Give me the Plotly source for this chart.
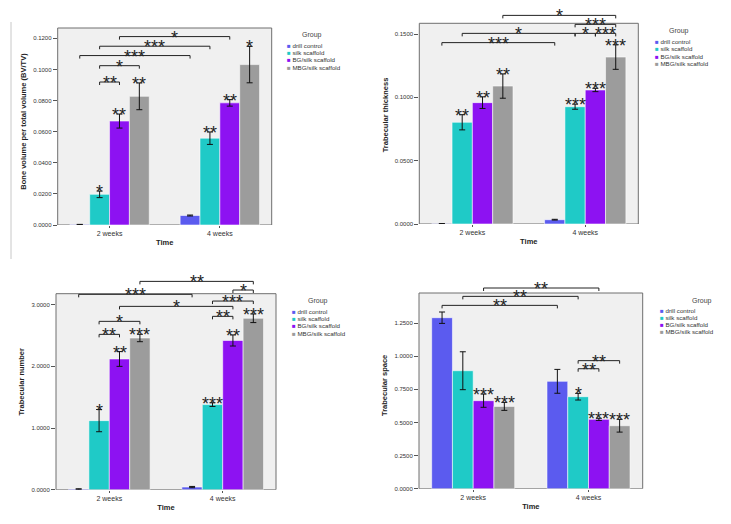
import plotly.graph_objects as go

W, H = 731, 524

categories = ["2 weeks", "4 weeks"]
groups = ["drill control", "silk scaffold", "BG/silk scaffold", "MBG/silk scaffold"]
colors = ["#5b5bef", "#1fcac7", "#8d12f2", "#9c9c9c"]

# ---- Panel 1: Bone volume per total volume ----
bvtv_mean = [[0.0003, 0.0061], [0.0197, 0.0558], [0.0668, 0.0785], [0.0827, 0.1031]]
bvtv_err = [[0.0001, 0.0003], [0.0021, 0.0040], [0.0045, 0.0021], [0.0086, 0.0117]]
bvtv_stars = [["", ""], ["*", "**"], ["**", "**"], ["**", "*"]]
bvtv_brackets = [((1, 0), (2, 0), 0.0919, "**"), ((1, 0), (3, 0), 0.1024, "*"),
                 ((0, 0), (0, 1), 0.1089, "***"), ((1, 0), (1, 1), 0.1149, "***"),
                 ((2, 0), (2, 1), 0.1211, "*")]
bvtv_ticks = [0, 0.02, 0.04, 0.06, 0.08, 0.10, 0.12]

# ---- Panel 2: Trabecular thickness ----
tbth_mean = [[0.0002, 0.0034], [0.0803, 0.0926], [0.0958, 0.1058], [0.1089, 0.1318]]
tbth_err = [[0.0001, 0.0003], [0.0060, 0.0020], [0.0046, 0.0013], [0.0096, 0.0097]]
tbth_stars = [["", ""], ["**", "***"], ["**", "***"], ["**", "***"]]
tbth_brackets = [((0, 0), (0, 1), 0.1432, "***"), ((1, 0), (1, 1), 0.1505, "*"),
                 ((1, 1), (2, 1), 0.1505, "*"), ((2, 1), (3, 1), 0.1505, "***"),
                 ((1, 1), (3, 1), 0.1576, "***"), ((3, 0), (3, 1), 0.1647, "*")]
tbth_ticks = [0, 0.05, 0.10, 0.15]

# ---- Panel 3: Trabecular number ----
tbn_mean = [[0.010, 0.043], [1.12, 1.38], [2.12, 2.42], [2.46, 2.78]]
tbn_err = [[0.005, 0.010], [0.18, 0.03], [0.12, 0.09], [0.06, 0.07]]
tbn_stars = [["", ""], ["*", "***"], ["**", "**"], ["***", "***"]]
tbn_brackets = [((1, 0), (2, 0), 2.519, "**"), ((1, 0), (3, 0), 2.730, "*"),
                ((1, 1), (2, 1), 2.811, "**"), ((2, 0), (2, 1), 2.973, "*"),
                ((1, 1), (3, 1), 3.059, "***"), ((0, 0), (0, 1), 3.168, "***"),
                ((2, 1), (3, 1), 3.238, "*"), ((3, 0), (3, 1), 3.378, "**")]
tbn_ticks = [0, 1, 2, 3]

# ---- Panel 4: Trabecular space ----
tbsp_mean = [[1.290, 0.810], [0.890, 0.694], [0.664, 0.523], [0.621, 0.475]]
tbsp_err = [[0.043, 0.090], [0.143, 0.025], [0.050, 0.008], [0.030, 0.048]]
tbsp_stars = [["", ""], ["", "*"], ["***", "***"], ["***", "***"]]
tbsp_brackets = [((1, 1), (2, 1), 0.905, "**"), ((1, 1), (3, 1), 0.966, "**"),
                 ((0, 0), (0, 1), 1.383, "**"), ((1, 0), (1, 1), 1.451, "**"),
                 ((2, 0), (2, 1), 1.514, "**")]
tbsp_ticks = [0, 0.25, 0.5, 0.75, 1.0, 1.25]

panels = [
    dict(mean=bvtv_mean, err=bvtv_err, stars=bvtv_stars, brackets=bvtv_brackets, ticks=bvtv_ticks,
         ytitle="Bone volume per total volume (BV/TV)",
         geo=dict(left=57.7, right=271.7, zero=225, ref=0.12, refpx=38.3, boxtop=28, ext=18),
         leg=dict(gx=311.7, gy=35, sx=285, rows=[45.7, 52.8, 59.9, 67.0])),
    dict(mean=tbth_mean, err=tbth_err, stars=tbth_stars, brackets=tbth_brackets, ticks=tbth_ticks,
         ytitle="Trabecular thickness",
         geo=dict(left=419.3, right=638.3, zero=224, ref=0.15, refpx=34, boxtop=23.3, ext=6),
         leg=dict(gx=679.3, gy=30.7, sx=652.5, rows=[41.7, 48.9, 56.1, 63.3])),
    dict(mean=tbn_mean, err=tbn_err, stars=tbn_stars, brackets=tbn_brackets, ticks=tbn_ticks,
         ytitle="Trabecular number",
         geo=dict(left=56, right=276, zero=489.7, ref=3.0, refpx=304.7, boxtop=293.7, ext=274),
         leg=dict(gx=318.3, gy=301, sx=290, rows=[311.3, 318.5, 325.7, 333.0])),
    dict(mean=tbsp_mean, err=tbsp_err, stars=tbsp_stars, brackets=tbsp_brackets, ticks=tbsp_ticks,
         ytitle="Trabecular space",
         geo=dict(left=419, right=642.7, zero=488.7, ref=1.25, refpx=323, boxtop=293, ext=282),
         leg=dict(gx=701.7, gy=301, sx=658.3, rows=[310.3, 317.5, 324.7, 332.0])),
]

BARGAP = 0.28
XRANGE = [-0.47, 1.47]
xpos = list(range(len(categories)))
bw = (1 - BARGAP) / len(groups)


def bar_x(series, cat):
    return cat + (series - (len(groups) - 1) / 2) * bw


fig = go.Figure()
shapes = []
annotations = []
FONT = "Liberation Sans, Arial, sans-serif"
STARFONT = dict(family="Liberation Sans", size=18, color="#222")

for n, p in enumerate(panels, start=1):
    xa = "x" if n == 1 else f"x{n}"
    ya = "y" if n == 1 else f"y{n}"
    g = p["geo"]
    k = (g["zero"] - g["refpx"]) / g["ref"]
    boxtop_val = (g["zero"] - g["boxtop"]) / k
    ext_val = (g["zero"] - g["ext"]) / k

    for s, name in enumerate(groups):
        fig.add_trace(go.Bar(
            x=xpos, y=p["mean"][s], name=name, showlegend=False,
            marker=dict(color=colors[s], line=dict(color="rgba(255,255,255,0.7)", width=0.8)),
            error_y=dict(type="data", array=p["err"][s], color="#111", thickness=1, width=3),
            xaxis=xa, yaxis=ya,
        ))

    # panel frame / background
    shapes.append(dict(type="rect", xref=f"{xa} domain", yref=ya, x0=0, x1=1, y0=0, y1=boxtop_val,
                       fillcolor="#f0f0f0", line=dict(color="#6e6e6e", width=1), layer="below"))

    # stars above bars
    for s in range(len(groups)):
        for c in xpos:
            t = p["stars"][s][c]
            if t:
                annotations.append(dict(x=bar_x(s, c), y=p["mean"][s][c] + p["err"][s][c],
                                         xref=xa, yref=ya, text=t, showarrow=False,
                                         yanchor="middle", yshift=-1, font=STARFONT))

    # significance brackets
    drop = 3.0 / k
    for (sa, ca), (sb, cb), yv, lab in p["brackets"]:
        x0, x1 = bar_x(sa, ca), bar_x(sb, cb)
        shapes.append(dict(type="path", xref=xa, yref=ya,
                           path=f"M {x0},{yv - drop} L {x0},{yv} L {x1},{yv} L {x1},{yv - drop}",
                           line=dict(color="#222", width=1)))
        annotations.append(dict(x=(x0 + x1) / 2, y=yv, xref=xa, yref=ya, text=lab, showarrow=False,
                                yanchor="middle", yshift=-1, font=STARFONT))

    # legend (manual)
    L = p["leg"]
    annotations.append(dict(x=L["gx"] / W, y=1 - L["gy"] / H, xref="paper", yref="paper", text="Group",
                            showarrow=False, xanchor="center", yanchor="middle",
                            font=dict(family=FONT, size=7, color="#444")))
    for s, name in enumerate(groups):
        annotations.append(dict(x=L["sx"] / W, y=1 - L["rows"][s] / H, xref="paper", yref="paper",
                                text=f'<span style="color:{colors[s]}">■</span> {name}',
                                showarrow=False, xanchor="left", yanchor="middle",
                                font=dict(family=FONT, size=6.2, color="#333")))

    xkey = "xaxis" if n == 1 else f"xaxis{n}"
    ykey = "yaxis" if n == 1 else f"yaxis{n}"
    fig.update_layout({
        xkey: dict(domain=[g["left"] / W, g["right"] / W], range=XRANGE, anchor=ya, automargin=False,
                   tickvals=xpos, ticktext=categories, ticks="outside", ticklen=2, tickcolor="#555",
                   showgrid=False, zeroline=False, showline=False,
                   tickfont=dict(family=FONT, size=7, color="#333"),
                   title=dict(text="Time", standoff=3,
                              font=dict(family=FONT, size=7.5, color="#222", weight="bold"))),
        ykey: dict(domain=[1 - g["zero"] / H, 1 - g["ext"] / H], range=[0, ext_val], anchor=xa,
                   automargin=False,
                   tickvals=p["ticks"], tickformat=".4f", ticks="outside", ticklen=4, tickcolor="#555",
                   showgrid=False, zeroline=False, showline=False,
                   tickfont=dict(family=FONT, size=6, color="#333"),
                   title=dict(text=p["ytitle"], standoff=5,
                              font=dict(family=FONT, size=7.5, color="#222", weight="bold"))),
    })

# thin separator line at far left
shapes.append(dict(type="line", xref="paper", yref="paper", x0=11 / W, x1=11 / W,
                   y0=1 - 22 / H, y1=1 - 259 / H, line=dict(color="#c8c8c8", width=1)))

fig.update_layout(
    width=W, height=H, margin=dict(l=0, r=0, t=0, b=0, autoexpand=False),
    paper_bgcolor="white", plot_bgcolor="rgba(0,0,0,0)",
    barmode="group", bargap=BARGAP, bargroupgap=0,
    shapes=shapes, annotations=annotations, showlegend=False,
    font=dict(family=FONT),
)

fig.write_html("out.html", config={"displayModeBar": False},
               post_script="document.body.style.margin='0px';")
